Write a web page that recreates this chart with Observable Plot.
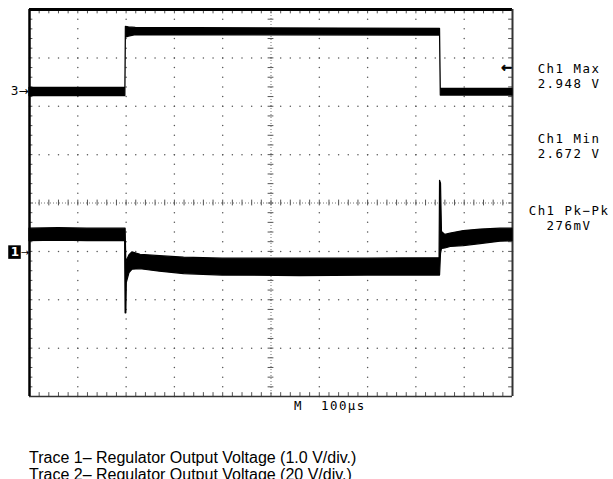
<!DOCTYPE html>
<html><head><meta charset="utf-8">
<script src="https://cdn.jsdelivr.net/npm/d3@7"></script>
<script src="https://cdn.jsdelivr.net/npm/@observablehq/plot@0.6"></script>
<style>
body{margin:0;background:#fff;overflow:hidden;}
#chart{position:absolute;left:0;top:0;}
#cap{position:absolute;left:29px;top:449px;font-family:"Liberation Sans",Arial,sans-serif;font-size:16px;line-height:17px;color:#000;white-space:nowrap;}
</style></head><body>
<div id="chart"></div>
<div id="cap"></div>
<script>
// Time in µs (100 µs/div), vertical position in screen divisions (0..8)
const ch1Time = [0, 60, 120, 198, 199, 200.5, 201.5, 207, 213, 230, 270, 320, 400, 560, 700, 849, 850, 852, 854, 861, 872, 899, 934, 975, 1000];
const ch1Low  = [3.21, 3.22, 3.21, 3.21, 1.72, 1.72, 2.35, 2.55, 2.62, 2.63, 2.58, 2.53, 2.50, 2.49, 2.50, 2.50, 2.50, 2.95, 3.05, 3.06, 3.09, 3.11, 3.15, 3.20, 3.21];
const ch1High = [3.47, 3.48, 3.47, 3.47, 3.47, 2.75, 2.80, 2.92, 2.98, 2.93, 2.90, 2.87, 2.85, 2.85, 2.85, 2.86, 4.46, 4.40, 3.40, 3.34, 3.37, 3.42, 3.45, 3.47, 3.47];

const ch3Time = [0, 198.5, 199.5, 206, 220, 850, 851.5, 1000];
const ch3Low  = [6.21, 6.21, 7.42, 7.44, 7.47, 7.46, 6.22, 6.22];
const ch3High = [6.38, 6.38, 7.64, 7.63, 7.62, 7.60, 6.36, 6.36];

const markers = [{label: "3", level: 6.31}, {label: "1", level: 2.975}];
const maxArrowLevel = 6.80;
const readingLabels = ["Ch1 Max", "Ch1 Min", "Ch1 Pk\u2212Pk"];
const readingValues = ["2.948 V", "2.672 V", "276mV"];
const timebaseLabel = "M\u00a0\u00a0100\u00b5s";
const captionLines = ["Trace 1\u2013 Regulator Output Voltage (1.0 V/div.)", "Trace 2\u2013 Regulator Output Voltage (20 V/div.)"];

const ch1 = ch1Time.map((t, i) => ({t, lo: ch1Low[i], hi: ch1High[i]}));
const ch3 = ch3Time.map((t, i) => ({t, lo: ch3Low[i], hi: ch3High[i]}));
const readings = readingLabels.map((l, i) => ({text: l + "\n" + readingValues[i]}));

// graticule structure
const xMajor = d3.range(1, 10).map(k => k * 100).filter(v => v !== 500);
const yMajor = d3.range(1, 8).filter(v => v !== 4);
const xMinor = d3.range(0, 51).map(k => k * 20);
const yMinor = d3.range(0, 41).map(k => k * 0.2);
const hDots = yMajor.flatMap(y => xMinor.map(x => ({x, y})));
const vDots = xMajor.flatMap(x => yMinor.map(y => ({x, y})));

const mono = "DejaVu Sans Mono";
const plot = Plot.plot({
  width: 613, height: 440,
  marginTop: 9, marginBottom: 44, marginLeft: 29, marginRight: 101,
  x: {domain: [0, 1000], axis: null},
  y: {domain: [0, 8], axis: null},
  marks: [
    Plot.dot(hDots, {x: "x", y: "y", r: 0.75, fill: "#555", stroke: "none"}),
    Plot.dot(vDots, {x: "x", y: "y", r: 0.75, fill: "#555", stroke: "none"}),
    Plot.ruleY([4], {stroke: "#777", strokeDasharray: "1,2"}),
    Plot.ruleX([500], {stroke: "#777", strokeDasharray: "1,2"}),
    Plot.ruleX(xMinor, {x: d => d, y1: 3.94, y2: 4.06, stroke: "#555"}),
    Plot.ruleY(yMinor, {y: d => d, x1: 494, x2: 506, stroke: "#555"}),
    // edge ticks
    Plot.ruleX(xMinor, {x: d => d, y1: 7.91, y2: 8, stroke: "#555"}),
    Plot.ruleX(xMinor, {x: d => d, y1: 0, y2: 0.08, stroke: "#555"}),
    Plot.ruleY(yMinor, {y: d => d, x1: 0, x2: 7, stroke: "#555"}),
    Plot.ruleY(yMinor, {y: d => d, x1: 992, x2: 1000, stroke: "#555"}),
    // frame
    Plot.ruleY([8], {stroke: "black", strokeWidth: 3}),
    Plot.ruleY([0], {stroke: "#333", strokeWidth: 1.5}),
    Plot.ruleX([0], {stroke: "black", strokeWidth: 2.5}),
    Plot.ruleX([1000], {stroke: "#333", strokeWidth: 2}),
    // traces
    Plot.areaY(ch3, {x: "t", y1: "lo", y2: "hi", fill: "black", stroke: "black", strokeWidth: 1.2}),
    Plot.areaY(ch1, {x: "t", y1: "lo", y2: "hi", fill: "black", stroke: "black", strokeWidth: 1.2}),
    // channel markers
    Plot.text(markers.filter(d => d.label === "3"), {x: 0, y: "level", text: d => d.label + "\u2192", textAnchor: "end", dx: -1, fontSize: 12, fontFamily: "DejaVu Sans", fill: "black"}),
    Plot.rect(markers.filter(d => d.label === "1"), {x1: -43, x2: -17, y1: d => d.level - 0.14, y2: d => d.level + 0.14, fill: "black"}),
    Plot.text(markers.filter(d => d.label === "1"), {x: -30, y: "level", text: "label", fontSize: 12, fontWeight: "bold", fontFamily: "DejaVu Sans", fill: "white"}),
    Plot.text(markers.filter(d => d.label === "1"), {x: -9.3, y: "level", text: d => "\u2192", fontSize: 10, fontFamily: "DejaVu Sans", fill: "black"}),
    Plot.text([maxArrowLevel], {x: 988, y: d => d, text: d => "\u2190", fontSize: 13, fontWeight: "bold", fontFamily: "DejaVu Sans", fill: "black", stroke: "black", strokeWidth: 0.6}),
    // readings
    Plot.text(readings, {x: 1117, y: (d, i) => [6.63, 5.18, 3.69][i], text: "text", textAnchor: "middle", lineAnchor: "middle", fontSize: 12.4, lineHeight: 1.16, fontFamily: mono, fill: "black"}),
    Plot.text([timebaseLabel], {x: 622, y: -0.2, text: d => d, textAnchor: "middle", lineAnchor: "middle", fontSize: 12.4, fontFamily: mono, fill: "black"})
  ]
});
plot.querySelectorAll("text").forEach(t => { if (t.closest('[font-family*="Mono"]')) t.setAttribute("letter-spacing", "1.5"); });
document.getElementById("chart").appendChild(plot);
const cap = document.getElementById("cap");
captionLines.forEach(line => { const div = document.createElement("div"); div.textContent = line; cap.appendChild(div); });
</script>
</body></html>
